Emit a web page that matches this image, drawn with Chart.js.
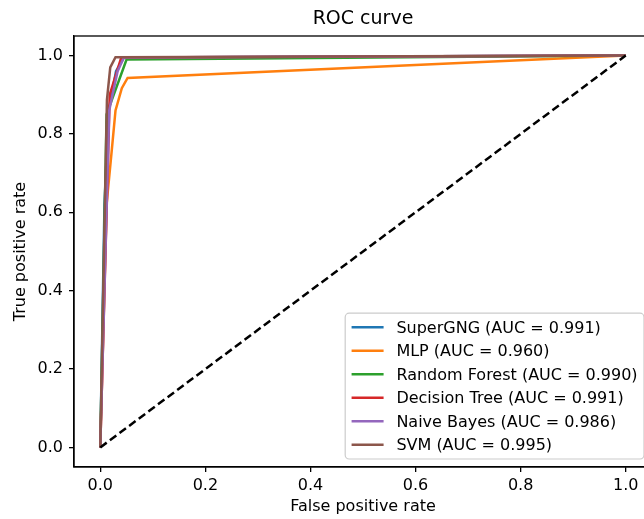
<!DOCTYPE html>
<html>
<head>
<meta charset="utf-8">
<title>ROC curve</title>
<script src="https://cdn.jsdelivr.net/npm/chart.js@4.4.1/dist/chart.umd.min.js"></script>
<style>
  html, body { margin: 0; padding: 0; background: #fff; overflow: hidden; }
  #wrap { width: 644px; height: 519px; overflow: hidden; }
  canvas { display: block; }
</style>
</head>
<body>
<div id="wrap"><canvas id="roc" width="664" height="519"></canvas></div>
<script>
// ── Data ──────────────────────────────────────────────────────────────────
const MODELS = ['SuperGNG', 'MLP', 'Random Forest', 'Decision Tree', 'Naive Bayes', 'SVM'];
const AUC = ['0.991', '0.960', '0.990', '0.991', '0.986', '0.995'];
const COLORS = ['#1f77b4', '#ff7f0e', '#2ca02c', '#d62728', '#9467bd', '#8c564b'];

const FPR_SUPERGNG = [0, 0.008, 0.016, 0.03, 0.045, 1];
const TPR_SUPERGNG = [0, 0.62, 0.86, 0.96, 0.995, 1];
const FPR_MLP = [0, 0.012, 0.022, 0.029, 0.041, 0.052, 1];
const TPR_MLP = [0, 0.62, 0.76, 0.86, 0.917, 0.943, 1];
const FPR_RF = [0, 0.012, 0.05, 1];
const TPR_RF = [0, 0.85, 0.99, 1];
const FPR_DT = [0, 0.018, 0.04, 1];
const TPR_DT = [0, 0.9, 0.995, 1];
const FPR_NB = [0, 0.017, 0.025, 0.033, 0.045, 1];
const TPR_NB = [0, 0.86, 0.91, 0.96, 0.995, 1];
const FPR_SVM = [0, 0.0127, 0.019, 0.029, 1];
const TPR_SVM = [0, 0.887, 0.97, 0.996, 1];

const FPRS = [FPR_SUPERGNG, FPR_MLP, FPR_RF, FPR_DT, FPR_NB, FPR_SVM];
const TPRS = [TPR_SUPERGNG, TPR_MLP, TPR_RF, TPR_DT, TPR_NB, TPR_SVM];

const CHANCE_X = [0, 1];
const CHANCE_Y = [0, 1];

const X_TICKS = [0, 0.2, 0.4, 0.6, 0.8, 1.0];
const Y_TICKS = [0, 0.2, 0.4, 0.6, 0.8, 1.0];

const FONT = 'DejaVu Sans';

// ── Datasets ──────────────────────────────────────────────────────────────
const datasets = MODELS.map((name, i) => ({
  label: `${name} (AUC = ${AUC[i]})`,
  data: FPRS[i].map((x, j) => ({ x, y: TPRS[i][j] })),
  borderColor: COLORS[i],
  backgroundColor: COLORS[i],
  borderWidth: 2.5,
  pointRadius: 0,
  tension: 0,
  fill: false,
  order: MODELS.length - i   // later models drawn on top, like matplotlib
}));

datasets.push({
  label: '_chance',
  data: CHANCE_X.map((x, j) => ({ x, y: CHANCE_Y[j] })),
  borderColor: '#000',
  borderWidth: 2.5,
  borderDash: [8, 4],
  pointRadius: 0,
  fill: false,
  order: 0
});

// ── Plugins: frame, title, legend ─────────────────────────────────────────
const framePlugin = {
  id: 'frame',
  afterDraw(chart) {
    const { ctx, chartArea: a } = chart;
    ctx.save();
    ctx.strokeStyle = '#000';
    ctx.lineWidth = 1.3;
    ctx.strokeRect(a.left, a.top, a.right - a.left, a.bottom - a.top);
    ctx.restore();
  }
};

const titlePlugin = {
  id: 'plotTitle',
  afterDraw(chart) {
    const { ctx, chartArea: a } = chart;
    ctx.save();
    ctx.fillStyle = '#000';
    ctx.font = `19px "${FONT}"`;
    ctx.textAlign = 'center';
    ctx.textBaseline = 'middle';
    ctx.fillText('ROC curve', (a.left + a.right) / 2, 19);
    ctx.restore();
  }
};

const legendPlugin = {
  id: 'boxLegend',
  afterDraw(chart) {
    const { ctx, chartArea: a } = chart;
    const items = chart.data.datasets.filter(d => !d.label.startsWith('_'));
    const fs = 16;
    const pad = 6.4, handle = 32, gap = 12.8, rowH = 15.5, spacing = 8;
    ctx.save();
    ctx.font = `${fs}px "${FONT}"`;
    const textW = Math.max(...items.map(d => ctx.measureText(d.label).width));
    const w = pad * 2 + handle + gap + textW;
    const h = pad * 2 + items.length * rowH + (items.length - 1) * spacing;
    const right = a.right - 8, bottom = a.bottom - 8;
    const left = right - w, top = bottom - h;

    ctx.beginPath();
    ctx.roundRect(left, top, w, h, 4);
    ctx.fillStyle = 'rgba(255,255,255,0.8)';
    ctx.fill();
    ctx.strokeStyle = '#cccccc';
    ctx.lineWidth = 1.2;
    ctx.stroke();

    items.forEach((d, i) => {
      const cy = top + pad + rowH / 2 + i * (rowH + spacing);
      ctx.beginPath();
      ctx.moveTo(left + pad, cy);
      ctx.lineTo(left + pad + handle, cy);
      ctx.strokeStyle = d.borderColor;
      ctx.lineWidth = 2.5;
      ctx.stroke();
      ctx.fillStyle = '#000';
      ctx.textAlign = 'left';
      ctx.textBaseline = 'middle';
      ctx.fillText(d.label, left + pad + handle + gap, cy + 1);
    });
    ctx.restore();
  }
};

// ── Chart ─────────────────────────────────────────────────────────────────
const axisCommon = {
  type: 'linear',
  min: -0.05,
  max: 1.05,
  grid: { drawOnChartArea: false, drawTicks: true, tickLength: 5, color: '#000', lineWidth: 1.3 },
  border: { display: true, color: '#000', width: 1.3 },
  ticks: {
    color: '#000',
    font: { family: FONT, size: 16 },
    callback: v => v.toFixed(1)
  }
};

new Chart(document.getElementById('roc'), {
  type: 'line',
  data: { datasets },
  plugins: [framePlugin, titlePlugin, legendPlugin],
  options: {
    responsive: false,
    animation: false,
    layout: { padding: { top: 36, right: 12, left: 0, bottom: 0 } },
    plugins: {
      legend: { display: false },
      title: { display: false },
      tooltip: { enabled: false }
    },
    scales: {
      x: {
        ...axisCommon,
        ticks: { ...axisCommon.ticks, padding: 4, maxRotation: 0 },
        afterBuildTicks: s => { s.ticks = X_TICKS.map(value => ({ value })); },
        afterFit: s => { s.height = 52; },
        title: {
          display: true,
          text: 'False positive rate',
          color: '#000',
          font: { family: FONT, size: 16 },
          padding: { top: 0, bottom: 2.4 }
        }
      },
      y: {
        ...axisCommon,
        ticks: { ...axisCommon.ticks, padding: 6 },
        afterBuildTicks: s => { s.ticks = Y_TICKS.map(value => ({ value })); },
        afterFit: s => { s.width = 74; },
        title: {
          display: true,
          text: 'True positive rate',
          color: '#000',
          font: { family: FONT, size: 16 },
          padding: { top: 11.4, bottom: 0 }
        }
      }
    }
  }
});
</script>
</body>
</html>
